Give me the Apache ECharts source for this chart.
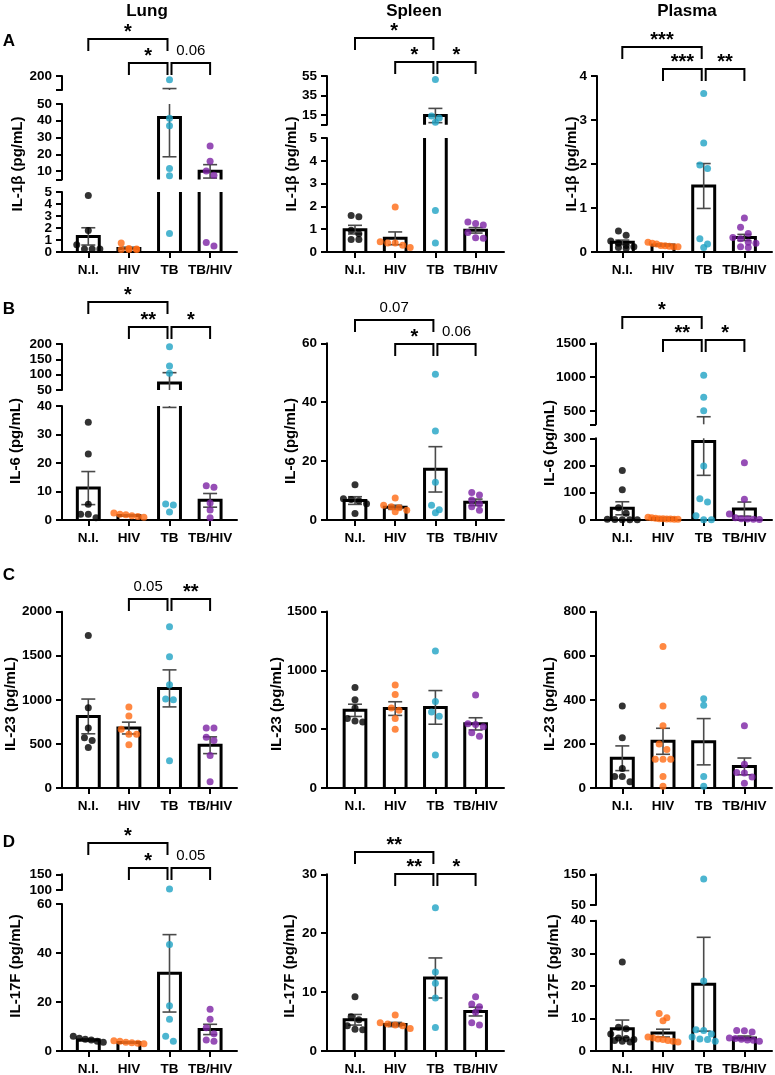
<!DOCTYPE html>
<html>
<head>
<meta charset="utf-8">
<script src="https://cdn.jsdelivr.net/npm/echarts@6/dist/echarts.min.js"></script>
<style>
  html, body { margin: 0; background: #fff; }
  #chart { width: 775px; height: 1075px; }
</style>
</head>
<body>
<div id="chart"></div>
<script>
const groups = ['N.I.', 'HIV', 'TB', 'TB/HIV'];
const groupColors = ['#000000', '#ff6a13', '#1fa2c4', '#7c22a4'];

// ---- A: IL-1β ----
const lungIl1bPoints = [
  [4.7, 1.8, 0.6, 0.25, 0.25, 0.25],
  [0.75, 0.3, 0.25, 0.2, 0.2, 0.2],
  [160, 41.5, 37, 11.5, 7.2, 1.55],
  [25, 15.8, 10, 7.5, 0.8, 0.5]
];
const lungIl1bMean = [1.3, 0.3, 42, 9.8];
const lungIl1bSem = [0.72, 0.1, 23.5, 4];
const lungIl1bAxis = [[0, 5], [5, 50], [50, 200]];
const lungIl1bTicks = [[0, 1, 2, 3, 4, 5], [10, 20, 30, 40, 50], [200]];
const lungIl1bSig = [['N.I.', 'TB', '*'], ['HIV', 'TB', '*'], ['TB', 'TB/HIV', '0.06']];

const spleenIl1bPoints = [
  [1.6, 1.55, 0.95, 0.8, 0.55, 0.55],
  [1.97, 0.45, 0.4, 0.4, 0.3, 0.2],
  [51.5, 14, 12, 7.5, 1.82, 0.4],
  [1.32, 1.25, 1.18, 0.85, 0.62, 0.6]
];
const spleenIl1bMean = [0.98, 0.6, 14.5, 0.95];
const spleenIl1bSem = [0.19, 0.28, 7.3, 0.12];
const spleenIl1bAxis = [[0, 5], [5, 55]];
const spleenIl1bTicks = [[0, 1, 2, 3, 4, 5], [15, 35, 55]];
const spleenIl1bSig = [['N.I.', 'TB', '*'], ['HIV', 'TB', '*'], ['TB', 'TB/HIV', '*']];

const plasmaIl1bPoints = [
  [0.48, 0.38, 0.25, 0.2, 0.15, 0.12, 0.1, 0.08],
  [0.22, 0.2, 0.18, 0.15, 0.14, 0.13, 0.12, 0.12],
  [3.6, 2.48, 1.98, 1.9, 0.3, 0.18, 0.1],
  [0.77, 0.56, 0.42, 0.33, 0.3, 0.22, 0.2, 0.12, 0.1]
];
const plasmaIl1bMean = [0.22, 0.16, 1.5, 0.33];
const plasmaIl1bSem = [0.05, 0.02, 0.51, 0.07];
const plasmaIl1bAxis = [[0, 4]];
const plasmaIl1bTicks = [[0, 1, 2, 3, 4]];
const plasmaIl1bSig = [['N.I.', 'TB', '***'], ['HIV', 'TB', '***'], ['TB', 'TB/HIV', '**']];

// ---- B: IL-6 ----
const lungIl6Points = [
  [34.3, 23.2, 5.5, 2, 2, 0.8],
  [2.5, 2.0, 1.8, 1.5, 1.2, 1.0],
  [191, 128, 105, 5.6, 5.3, 2.8],
  [12, 11.5, 6, 3.5, 0.8]
];
const lungIl6Mean = [11.2, 1.6, 73, 6.9];
const lungIl6Sem = [5.8, 0.25, 33.5, 2.4];
const lungIl6Axis = [[0, 40], [50, 200]];
const lungIl6Ticks = [[0, 10, 20, 30, 40], [50, 100, 150, 200]];
const lungIl6Sig = [['N.I.', 'TB', '*'], ['HIV', 'TB', '**'], ['TB', 'TB/HIV', '*']];

const spleenIl6Points = [
  [12, 7.2, 7, 6.5, 5.5, 2.2],
  [7.5, 5, 4.5, 4.2, 3.3, 2.8],
  [49.5, 30.2, 12.8, 5, 3.5, 2.5],
  [9.3, 8.5, 6.8, 5.5, 4.5, 3.3]
];
const spleenIl6Mean = [6.6, 4.3, 17.2, 6];
const spleenIl6Sem = [1.3, 0.7, 7.7, 1.1];
const spleenIl6Axis = [[0, 60]];
const spleenIl6Ticks = [[0, 20, 40, 60]];
const spleenIl6Sig = [['N.I.', 'TB', '0.07'], ['HIV', 'TB', '*'], ['TB', 'TB/HIV', '0.06']];

const plasmaIl6Points = [
  [182, 111, 45, 25, 3, 2, 1, 1, 1],
  [10, 8, 6, 5, 5, 4, 4, 3, 3],
  [1025, 700, 500, 198, 78, 66, 16, 0.5, 0.5],
  [210, 76, 22, 8, 5, 4, 3, 2]
];
const plasmaIl6Mean = [43, 6, 288, 40];
const plasmaIl6Sem = [24, 1.5, 124, 26];
const plasmaIl6Axis = [[0, 300], [300, 1500]];
const plasmaIl6Ticks = [[0, 100, 200, 300], [500, 1000, 1500]];
const plasmaIl6Sig = [['N.I.', 'TB', '*'], ['HIV', 'TB', '**'], ['TB', 'TB/HIV', '*']];

// ---- C: IL-23 ----
const lungIl23Points = [
  [1730, 910, 680, 570, 540, 460],
  [920, 818, 667, 610, 610, 490],
  [1830, 1490, 1170, 1010, 1000, 310],
  [680, 680, 575, 540, 370, 70]
];
const lungIl23Mean = [812, 680, 1130, 485];
const lungIl23Sem = [197, 67, 210, 95];
const lungIl23Axis = [[0, 2000]];
const lungIl23Ticks = [[0, 500, 1000, 1500, 2000]];
const lungIl23Sig = [['HIV', 'TB', '0.05'], ['TB', 'TB/HIV', '**']];

const spleenIl23Points = [
  [855, 750, 680, 590, 570, 560],
  [875, 795, 680, 660, 590, 500],
  [1165, 735, 645, 610, 280],
  [790, 545, 540, 520, 470, 440]
];
const spleenIl23Mean = [660, 675, 685, 545];
const spleenIl23Sem = [52, 58, 143, 52];
const spleenIl23Axis = [[0, 1500]];
const spleenIl23Ticks = [[0, 500, 1000, 1500]];

const plasmaIl23Points = [
  [372, 228, 88, 52, 52, 28],
  [642, 372, 282, 200, 175, 130, 130, 130, 52, 8],
  [405, 375, 52, 8],
  [283, 108, 70, 68, 50, 22]
];
const plasmaIl23Mean = [135, 212, 210, 98];
const plasmaIl23Sem = [56, 59, 105, 38];
const plasmaIl23Axis = [[0, 800]];
const plasmaIl23Ticks = [[0, 200, 400, 600, 800]];

// ---- D: IL-17F ----
const lungIl17Points = [
  [6, 5.2, 4.8, 4.5, 4, 3.6],
  [4.2, 4, 3.6, 3.4, 3.2, 3],
  [103, 43.5, 18.5, 13, 6, 4],
  [17, 13, 9.5, 7, 4.5, 4]
];
const lungIl17Mean = [4.5, 3.5, 31.7, 8.8];
const lungIl17Sem = [0.4, 0.3, 15.8, 2.1];
const lungIl17Axis = [[0, 60], [100, 150]];
const lungIl17Ticks = [[0, 20, 40, 60], [100, 150]];
const lungIl17Sig = [['N.I.', 'TB', '*'], ['HIV', 'TB', '*'], ['TB', 'TB/HIV', '0.05']];

const spleenIl17Points = [
  [9.2, 5.8, 5.3, 4.3, 3.7, 3.6],
  [6.1, 4.8, 4.6, 4.4, 4.3, 3.8],
  [24.3, 13.4, 11.5, 9, 4],
  [9.2, 8, 7.5, 6.6, 4.8, 4.4]
];
const spleenIl17Mean = [5.3, 4.5, 12.4, 6.7];
const spleenIl17Sem = [0.9, 0.35, 3.4, 0.75];
const spleenIl17Axis = [[0, 30]];
const spleenIl17Ticks = [[0, 10, 20, 30]];
const spleenIl17Sig = [['N.I.', 'TB', '**'], ['HIV', 'TB', '**'], ['TB', 'TB/HIV', '*']];

const plasmaIl17Points = [
  [27.3, 7.3, 6.8, 5.2, 4, 3.8, 3.5, 3.2, 3, 2.8],
  [11.5, 10.2, 9.3, 4.3, 4, 3.7, 3.5, 3.2, 3, 2.8],
  [135, 21.5, 6.5, 6.3, 5.2, 4.3, 3.7, 3.5, 3],
  [6.3, 6.2, 5.8, 4, 3.8, 3.6, 3.4, 3.3, 3]
];
const plasmaIl17Mean = [6.8, 5.5, 20.5, 4];
const plasmaIl17Sem = [2.7, 1.2, 14.4, 0.6];
const plasmaIl17Axis = [[0, 40], [50, 150]];
const plasmaIl17Ticks = [[0, 10, 20, 30, 40], [50, 150]];

const organs = ['Lung', 'Spleen', 'Plasma'];
const rowLetters = ['A', 'B', 'C', 'D'];

// ---- layout (pixels) ----
const FONT = '"Liberation Sans", Arial, Helvetica, sans-serif';
const BAR_W = 0.54;
const CAP = 7;
const DOT = 7;
const columns = [
  { left: 62, right: 237, first: 88.3, step: 40.6, title: 147 },
  { left: 327, right: 504, first: 355, step: 40.2, title: 414 },
  { left: 596, right: 772, first: 622.3, step: 40.7, title: 687 }
];
const letterY = [41, 309, 575, 842];

const panels = [
  { col: 0, name: 'IL-1β (pg/mL)', nameAt: [17.5, 164], points: lungIl1bPoints, mean: lungIl1bMean, sem: lungIl1bSem,
    axis: lungIl1bAxis, ticks: lungIl1bTicks, sig: lungIl1bSig, segPx: [[252, 192], [179.4, 104], [90, 76]], sigY: [39, 63, 63] },
  { col: 1, name: 'IL-1β (pg/mL)', nameAt: [291.5, 164], points: spleenIl1bPoints, mean: spleenIl1bMean, sem: spleenIl1bSem,
    axis: spleenIl1bAxis, ticks: spleenIl1bTicks, sig: spleenIl1bSig, segPx: [[252, 138], [124.8, 76]], sigY: [38, 62, 62] },
  { col: 2, name: 'IL-1β (pg/mL)', nameAt: [571.5, 164], points: plasmaIl1bPoints, mean: plasmaIl1bMean, sem: plasmaIl1bSem,
    axis: plasmaIl1bAxis, ticks: plasmaIl1bTicks, sig: plasmaIl1bSig, segPx: [[252, 76]], sigY: [47, 69, 69], left: 597 },

  { col: 0, name: 'IL-6 (pg/mL)', nameAt: [15.8, 441], points: lungIl6Points, mean: lungIl6Mean, sem: lungIl6Sem,
    axis: lungIl6Axis, ticks: lungIl6Ticks, sig: lungIl6Sig, segPx: [[520, 406], [390, 344]], sigY: [302, 327, 327] },
  { col: 1, name: 'IL-6 (pg/mL)', nameAt: [290.5, 441], points: spleenIl6Points, mean: spleenIl6Mean, sem: spleenIl6Sem,
    axis: spleenIl6Axis, ticks: spleenIl6Ticks, sig: spleenIl6Sig, segPx: [[520, 343.3]], sigY: [320, 344, 344] },
  { col: 2, name: 'IL-6 (pg/mL)', nameAt: [549.5, 443], points: plasmaIl6Points, mean: plasmaIl6Mean, sem: plasmaIl6Sem,
    axis: plasmaIl6Axis, ticks: plasmaIl6Ticks, sig: plasmaIl6Sig, segPx: [[520, 438.3], [424.3, 343.3]], sigY: [317, 340, 340] },

  { col: 0, name: 'IL-23 (pg/mL)', nameAt: [10.8, 704], points: lungIl23Points, mean: lungIl23Mean, sem: lungIl23Sem,
    axis: lungIl23Axis, ticks: lungIl23Ticks, sig: lungIl23Sig, segPx: [[788, 611.7]], sigY: [599, 599] },
  { col: 1, name: 'IL-23 (pg/mL)', nameAt: [276.5, 704], points: spleenIl23Points, mean: spleenIl23Mean, sem: spleenIl23Sem,
    axis: spleenIl23Axis, ticks: spleenIl23Ticks, sig: [], segPx: [[788, 611.5]], sigY: [] },
  { col: 2, name: 'IL-23 (pg/mL)', nameAt: [550, 704], points: plasmaIl23Points, mean: plasmaIl23Mean, sem: plasmaIl23Sem,
    axis: plasmaIl23Axis, ticks: plasmaIl23Ticks, sig: [], segPx: [[788, 611.7]], sigY: [] },

  { col: 0, name: 'IL-17F (pg/mL)', nameAt: [15.8, 966], points: lungIl17Points, mean: lungIl17Mean, sem: lungIl17Sem,
    axis: lungIl17Axis, ticks: lungIl17Ticks, sig: lungIl17Sig, segPx: [[1051, 904], [890, 874.3]], sigY: [843, 868, 868] },
  { col: 1, name: 'IL-17F (pg/mL)', nameAt: [290, 966], points: spleenIl17Points, mean: spleenIl17Mean, sem: spleenIl17Sem,
    axis: spleenIl17Axis, ticks: spleenIl17Ticks, sig: spleenIl17Sig, segPx: [[1051, 874.3]], sigY: [852, 874, 874] },
  { col: 2, name: 'IL-17F (pg/mL)', nameAt: [553.5, 966], points: plasmaIl17Points, mean: plasmaIl17Mean, sem: plasmaIl17Sem,
    axis: plasmaIl17Axis, ticks: plasmaIl17Ticks, sig: [], segPx: [[1051, 920.7], [905, 874.3]], sigY: [] }
];

// which axis segment a value is drawn in
function segOf(p, v) {
  let best = 0, dist = Infinity;
  p.axis.forEach(([lo, hi], k) => {
    const d = v < lo ? lo - v : v > hi ? v - hi : 0;
    if (d < dist) { dist = d; best = k; }
  });
  return best;
}

// bar + SEM whisker, clipped to one axis segment
function barItem(lo, hi) {
  return function (params, api) {
    const g = api.value(0), m = api.value(1), s = api.value(2);
    const clampV = v => Math.max(lo, Math.min(hi, v));
    const x = api.coord([g, lo])[0];
    const y = v => api.coord([g, clampV(v)])[1];
    const half = api.size([BAR_W, 0])[0] / 2;
    const kids = [];
    const bar = { stroke: '#000', lineWidth: 3, fill: 'none' };
    if (m > lo) {
      const yb = y(lo), yt = y(m);
      if (m <= hi) {
        kids.push({ type: 'polyline', shape: { points: [[x - half, yb], [x - half, yt], [x + half, yt], [x + half, yb]] }, style: bar });
      } else {
        kids.push({ type: 'line', shape: { x1: x - half, y1: yb, x2: x - half, y2: yt }, style: bar });
        kids.push({ type: 'line', shape: { x1: x + half, y1: yb, x2: x + half, y2: yt }, style: bar });
      }
    }
    const e0 = m - s, e1 = m + s;
    const err = { stroke: '#4a4a4a', lineWidth: 1.6 };
    if (e1 >= lo && e0 <= hi) {
      kids.push({ type: 'line', shape: { x1: x, y1: y(e0), x2: x, y2: y(e1) }, style: err });
      [e0, e1].forEach(e => {
        if (e >= lo && e <= hi) kids.push({ type: 'line', shape: { x1: x - CAP, y1: y(e), x2: x + CAP, y2: y(e) }, style: err });
      });
    }
    return { type: 'group', children: kids };
  };
}

function dotData(p, k, offs, unit) {
  const out = [];
  p.points.forEach((pts, gi) => pts.forEach((v, j) => {
    if (segOf(p, v) !== k) return;
    const dx = offs ? offs[gi][j] / unit : 0;
    out.push({ value: [gi + dx, v], itemStyle: { color: groupColors[gi] } });
  }));
  return out;
}

// simple swarm: dots at nearly the same height are spread sideways
function swarm(ys) {
  const order = ys.map((y, i) => i).sort((a, b) => ys[a] - ys[b]);
  const off = ys.map(() => 0);
  let i = 0;
  while (i < order.length) {
    let j = i;
    while (j + 1 < order.length && ys[order[j + 1]] - ys[order[i]] < DOT * 0.9) j++;
    const n = j - i + 1;
    const step = n > 1 ? Math.min(DOT * 1.1, 30 / (n - 1)) : 0;
    for (let k = 0; k < n; k++) off[order[i + k]] = (k - (n - 1) / 2) * step;
    i = j + 1;
  }
  return off;
}

const labelStyle = { color: '#000', fontSize: 13.5, fontWeight: 'bold', fontFamily: FONT };
const grids = [], xAxes = [], yAxes = [], series = [];
panels.forEach(p => {
  const c = columns[p.col];
  const left = p.left || c.left;
  p.grid = [];
  p.axis.forEach((rng, k) => {
    const gi = grids.length;
    p.grid.push(gi);
    const [bot, top] = p.segPx[k];
    grids.push({ left: left, top: top, width: c.right - left, height: bot - top, containLabel: false, outerBoundsMode: 'none' });
    xAxes.push({
      gridIndex: gi, type: 'value',
      min: (left - c.first) / c.step, max: (c.right - c.first) / c.step,
      show: k === 0,
      axisLine: { onZero: false, lineStyle: { color: '#000', width: 2 } },
      axisTick: { customValues: [0, 1, 2, 3], length: 6, lineStyle: { color: '#000', width: 2 } },
      axisLabel: Object.assign({ customValues: [0, 1, 2, 3], formatter: v => groups[Math.round(v)], margin: 11,
        showMinLabel: true, showMaxLabel: true }, labelStyle),
      splitLine: { show: false }
    });
    // labels closer than ~16px would be thinned by the axis, so split them over two stacked axes
    const labels = p.ticks[k];
    const pxPerUnit = (bot - top) / (rng[1] - rng[0]);
    const tight = labels.length > 2 && (labels[1] - labels[0]) * pxPerUnit < 16;
    const tickVals = Array.from(new Set(labels.concat(rng)));
    const yi = yAxes.length;
    yAxes.push({
      gridIndex: gi, type: 'value', min: rng[0], max: rng[1], position: 'left',
      axisLine: { show: true, onZero: false, lineStyle: { color: '#000', width: 2 } },
      axisTick: { show: true, customValues: tickVals, length: 6, lineStyle: { color: '#000', width: 2 } },
      axisLabel: Object.assign({ customValues: tight ? labels.filter((v, i) => i % 2 === 0) : labels, margin: 10,
        formatter: v => String(v), showMinLabel: true, showMaxLabel: true }, labelStyle),
      splitLine: { show: false }
    });
    if (tight) {
      yAxes.push({
        gridIndex: gi, type: 'value', min: rng[0], max: rng[1], position: 'left', offset: 0,
        axisLine: { show: false, onZero: false }, axisTick: { show: false },
        axisLabel: Object.assign({ customValues: labels.filter((v, i) => i % 2 === 1), margin: 10,
          formatter: v => String(v), showMinLabel: true, showMaxLabel: true }, labelStyle),
        splitLine: { show: false }
      });
    }
    series.push({
      type: 'custom', xAxisIndex: gi, yAxisIndex: yi, z: 2, silent: true,
      renderItem: barItem(rng[0], rng[1]),
      data: groups.map((g, i) => [i, p.mean[i], p.sem[i]])
    });
    series.push({
      id: 'dots' + gi, type: 'scatter', xAxisIndex: gi, yAxisIndex: yi, z: 3, silent: true, clip: false,
      symbol: 'circle', symbolSize: DOT, data: dotData(p, k, null, 1)
    });
  });
});

const chart = echarts.init(document.getElementById('chart'), null, { renderer: 'canvas' });
chart.setOption({
  backgroundColor: '#fff',
  animation: false,
  grid: grids, xAxis: xAxes, yAxis: yAxes, series: series
});

// second pass: swarm offsets and significance brackets in pixel space
const txt = (text, x, y, size, weight, extra) => Object.assign({
  type: 'text', x: x, y: y, silent: true,
  style: { text: text, fill: '#000', font: weight + ' ' + size + 'px ' + FONT, align: 'center', verticalAlign: 'middle' }
}, extra || {});

const elements = [];
columns.forEach((c, i) => elements.push(txt(organs[i], c.title, 11, 17, 'bold')));
rowLetters.forEach((l, i) => elements.push(txt(l, 9, letterY[i], 17, 'bold')));

const newSeries = [];
panels.forEach(p => {
  const offs = p.points.map((pts, gi) => swarm(pts.map(v => chart.convertToPixel({ gridIndex: p.grid[segOf(p, v)] }, [gi, v])[1])));
  p.grid.forEach((gIdx, k) => {
    const unit = chart.convertToPixel({ gridIndex: gIdx }, [1, 0])[0] - chart.convertToPixel({ gridIndex: gIdx }, [0, 0])[0];
    newSeries.push({ id: 'dots' + gIdx, data: dotData(p, k, offs, unit) });
  });

  elements.push(txt(p.name, p.nameAt[0], p.nameAt[1], 15, 'bold', { rotation: Math.PI / 2 }));

  const X = i => chart.convertToPixel({ gridIndex: p.grid[0] }, [i, 0])[0];
  p.sig.forEach(([a, b, label], si) => {
    const ia = groups.indexOf(a), ib = groups.indexOf(b);
    const xa = X(ia) + (ia === 2 ? 2 : 0), xb = X(ib) - (ib === 2 ? 2 : 0);
    const y = p.sigY[si];
    elements.push({ type: 'polyline', silent: true, shape: { points: [[xa, y + 12], [xa, y], [xb, y], [xb, y + 12]] },
      style: { stroke: '#000', lineWidth: 2, fill: null } });
    const star = label.charAt(0) === '*';
    elements.push(star ? txt(label, (xa + xb) / 2, y - 7, 20, 'bold') : txt(label, (xa + xb) / 2, y - 12.5, 15, 'normal'));
  });
});

chart.setOption({ series: newSeries, graphic: { elements: elements } });
</script>
</body>
</html>
